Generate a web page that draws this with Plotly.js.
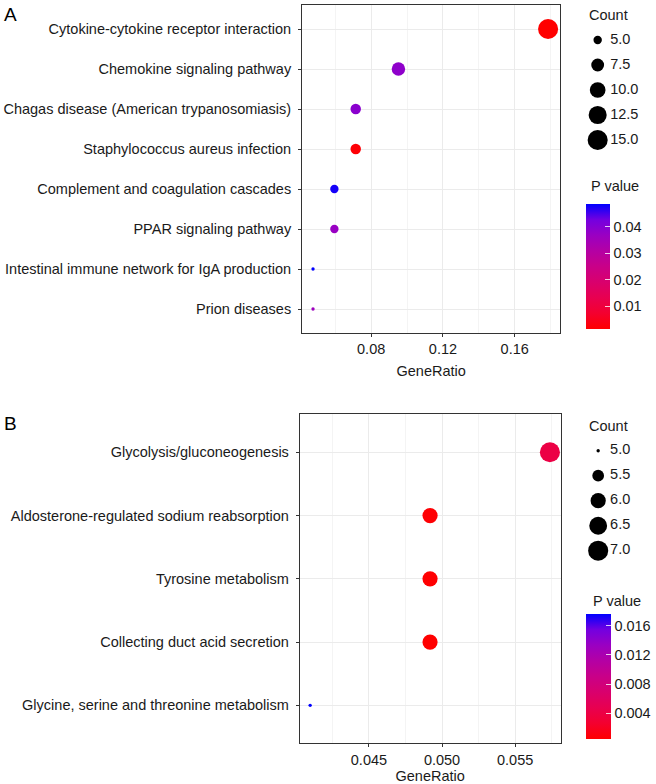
<!DOCTYPE html>
<html>
<head>
<meta charset="utf-8">
<script src="https://cdn.plot.ly/plotly-3.0.1.min.js"></script>
<style>html,body{margin:0;padding:0;background:#fff;}#chart{width:656px;height:784px;}</style>
</head>
<body>
<div id="chart"></div>
<script>
// ---------- Data ----------
const pathwaysA = ["Cytokine-cytokine receptor interaction","Chemokine signaling pathway","Chagas disease (American trypanosomiasis)","Staphylococcus aureus infection","Complement and coagulation cascades","PPAR signaling pathway","Intestinal immune network for IgA production","Prion diseases"];
const geneRatioA = [0.1786, 0.0952, 0.0714, 0.0714, 0.0595, 0.0595, 0.0476, 0.0476];
const countA = [15, 8, 6, 6, 5, 5, 4, 4];
const pvalueA = [0.0013, 0.0385, 0.0392, 0.0020, 0.0475, 0.0370, 0.0486, 0.0360];
const countBreaksA = [5.0, 7.5, 10.0, 12.5, 15.0];
const countLabelsA = ["5.0","7.5","10.0","12.5","15.0"];
const pTicksA = [0.01, 0.02, 0.03, 0.04];

const pathwaysB = ["Glycolysis/gluconeogenesis","Aldosterone-regulated sodium reabsorption","Tyrosine metabolism","Collecting duct acid secretion","Glycine, serine and threonine metabolism"];
const geneRatioB = [0.05738, 0.04918, 0.04918, 0.04918, 0.04098];
const countB = [7, 6, 6, 6, 5];
const pvalueB = [0.0040, 0.0006, 0.0005, 0.00043, 0.01757];
const countBreaksB = [5.0, 5.5, 6.0, 6.5, 7.0];
const countLabelsB = ["5.0","5.5","6.0","6.5","7.0"];
const pTicksB = [0.004, 0.008, 0.012, 0.016];

// ---------- Helpers ----------
const W = 656, H = 784;
const px = v => v / W;
const py = v => 1 - v / H;
// ggplot-like area scale: size range 1..6 units
function sizeScale(vals, lo, hi, unitPx) {
  return vals.map(v => unitPx * (1 + 5 * Math.sqrt((v - lo) / (hi - lo))));
}
const unitPx = 3.35;
const cs = [[0,'#FF0000'],[0.125,'#F4002F'],[0.25,'#E80050'],[0.375,'#D9006D'],[0.5,'#C90088'],[0.625,'#B400A4'],[0.75,'#9A00C2'],[0.875,'#7300E0'],[1,'#0000FF']];
const txtCol = '#1a1a1a';
const fnt = 'Liberation Sans, Arial, sans-serif';
const fs = 14.5;

const minA = Math.min(...countA), maxA = Math.max(...countA);
const minB = Math.min(...countB), maxB = Math.max(...countB);

const traces = [
  {
    type:'scatter', mode:'markers', xaxis:'x', yaxis:'y',
    x: geneRatioA, y: pathwaysA, cliponaxis:false,
    marker:{size:sizeScale(countA,minA,maxA,unitPx), color:pvalueA, colorscale:cs,
      cmin:Math.min(...pvalueA), cmax:Math.max(...pvalueA), line:{width:0}, opacity:1,
      colorbar:{x:px(587.5), xanchor:'left', y:py(204), yanchor:'top', len:125, lenmode:'pixels',
        thickness:24, thicknessmode:'pixels', outlinewidth:0, xpad:0, ypad:0,
        tickvals:pTicksA, ticks:'inside', ticklen:5, tickcolor:'rgba(255,255,255,0.8)',
        tickfont:{family:fnt,size:fs,color:txtCol}, title:{text:''}}},
    showlegend:false, hoverinfo:'x+y'
  },
  {
    type:'scatter', mode:'markers', xaxis:'x2', yaxis:'y2',
    x: geneRatioB, y: pathwaysB, cliponaxis:false,
    marker:{size:sizeScale(countB,minB,maxB,unitPx), color:pvalueB, colorscale:cs,
      cmin:Math.min(...pvalueB), cmax:Math.max(...pvalueB), line:{width:0}, opacity:1,
      colorbar:{x:px(587.7), xanchor:'left', y:py(614.3), yanchor:'top', len:125, lenmode:'pixels',
        thickness:25, thicknessmode:'pixels', outlinewidth:0, xpad:0, ypad:0,
        tickvals:pTicksB, ticks:'inside', ticklen:5, tickcolor:'rgba(255,255,255,0.8)',
        tickfont:{family:fnt,size:fs,color:txtCol}, title:{text:''}}},
    showlegend:false, hoverinfo:'x+y'
  },
  // Count legend A
  {type:'scatter', mode:'markers', xaxis:'x3', yaxis:'y3', cliponaxis:false,
   x: countBreaksA.map(()=>0), y: countBreaksA.map((_,i)=>i),
   marker:{size:sizeScale(countBreaksA,minA,maxA,unitPx), color:'rgb(0,0,0)', opacity:1, line:{width:0}},
   showlegend:false, hoverinfo:'skip'},
  {type:'scatter', mode:'text', xaxis:'x3', yaxis:'y3', cliponaxis:false,
   x: countBreaksA.map(()=>1), y: countBreaksA.map((_,i)=>i), text: countLabelsA,
   textposition:'middle right', textfont:{family:fnt,size:fs,color:txtCol},
   showlegend:false, hoverinfo:'skip'},
  // Count legend B
  {type:'scatter', mode:'markers', xaxis:'x4', yaxis:'y4', cliponaxis:false,
   x: countBreaksB.map(()=>0), y: countBreaksB.map((_,i)=>i),
   marker:{size:sizeScale(countBreaksB,minB,maxB,unitPx), color:'rgb(0,0,0)', opacity:1, line:{width:0}},
   showlegend:false, hoverinfo:'skip'},
  {type:'scatter', mode:'text', xaxis:'x4', yaxis:'y4', cliponaxis:false,
   x: countBreaksB.map(()=>1), y: countBreaksB.map((_,i)=>i), text: countLabelsB,
   textposition:'middle right', textfont:{family:fnt,size:fs,color:txtCol},
   showlegend:false, hoverinfo:'skip'}
];

const axBase = {
  showline:true, mirror:true, linecolor:'#333', linewidth:1,
  ticks:'outside', ticklen:3, tickcolor:'#333', tickwidth:1,
  gridcolor:'#ebebeb', gridwidth:1, zeroline:false,
  tickfont:{family:fnt, size:fs, color:txtCol}, fixedrange:true
};

const layout = {
  width:W, height:H, margin:{l:0,r:0,t:0,b:0},
  paper_bgcolor:'#fff', plot_bgcolor:'#fff', showlegend:false,
  font:{family:fnt, size:fs, color:txtCol},
  xaxis: Object.assign({}, axBase, {
    domain:[px(303), px(562)], range:[0.0415, 0.1854], anchor:'y',
    tickvals:[0.08,0.12,0.16], ticktext:['0.08','0.12','0.16'],
    minor:{tickvals:[0.06,0.10,0.14,0.18], showgrid:true, gridcolor:'#f1f1f1', gridwidth:0.8, ticks:''},
    title:{text:'GeneRatio', font:{family:fnt,size:fs,color:txtCol}, standoff:9}
  }),
  yaxis: Object.assign({}, axBase, {
    domain:[py(333), py(5)], anchor:'x', type:'category',
    categoryorder:'array', categoryarray:pathwaysA.slice(),
    range:[pathwaysA.length - 0.4, -0.6], ticklabelstandoff:4
  }),
  xaxis2: Object.assign({}, axBase, {
    domain:[px(300.7), px(562.3)], range:[0.04027, 0.05811], anchor:'y2',
    tickvals:[0.045,0.050,0.055], ticktext:['0.045','0.050','0.055'],
    minor:{tickvals:[0.0425,0.0475,0.0525,0.0575], showgrid:true, gridcolor:'#f1f1f1', gridwidth:0.8, ticks:''},
    title:{text:'GeneRatio', font:{family:fnt,size:fs,color:txtCol}, standoff:4}
  }),
  yaxis2: Object.assign({}, axBase, {
    domain:[py(743.3), py(414.3)], anchor:'x2', type:'category',
    categoryorder:'array', categoryarray:pathwaysB.slice(),
    range:[pathwaysB.length - 0.4, -0.6], ticklabelstandoff:4
  }),
  xaxis3:{domain:[px(599.5), px(612)], range:[0,1], visible:false, fixedrange:true, anchor:'y3'},
  yaxis3:{domain:[py(140), py(40)], range:[4,0], visible:false, fixedrange:true, anchor:'x3'},
  xaxis4:{domain:[px(600), px(612)], range:[0,1], visible:false, fixedrange:true, anchor:'y4'},
  yaxis4:{domain:[py(550.7), py(450.7)], range:[4,0], visible:false, fixedrange:true, anchor:'x4'},
  annotations:[
    {text:'A', x:px(2), y:py(14), xref:'paper', yref:'paper', xanchor:'left', yanchor:'middle', showarrow:false, font:{family:fnt,size:19,color:'#000'}},
    {text:'B', x:px(2), y:py(423), xref:'paper', yref:'paper', xanchor:'left', yanchor:'middle', showarrow:false, font:{family:fnt,size:19,color:'#000'}},
    {text:'Count', x:px(589), y:py(15), xref:'paper', yref:'paper', xanchor:'left', yanchor:'middle', showarrow:false, font:{family:fnt,size:fs,color:txtCol}},
    {text:'P value', x:px(591), y:py(186.5), xref:'paper', yref:'paper', xanchor:'left', yanchor:'middle', showarrow:false, font:{family:fnt,size:fs,color:txtCol}},
    {text:'Count', x:px(589), y:py(425.5), xref:'paper', yref:'paper', xanchor:'left', yanchor:'middle', showarrow:false, font:{family:fnt,size:fs,color:txtCol}},
    {text:'P value', x:px(593), y:py(601), xref:'paper', yref:'paper', xanchor:'left', yanchor:'middle', showarrow:false, font:{family:fnt,size:fs,color:txtCol}}
  ]
};

Plotly.newPlot('chart', traces, layout, {staticPlot:true, displayModeBar:false});
</script>
</body>
</html>
